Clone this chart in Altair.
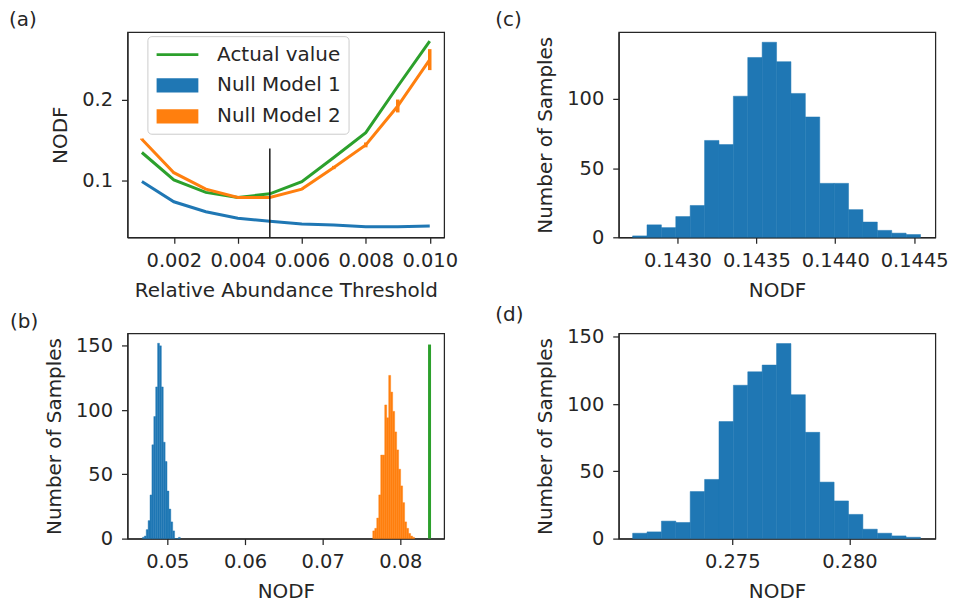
import altair as alt
import pandas as pd
import numpy as np

FONT = "DejaVu Sans"
TXT = "#262626"
BLUE = "#1f77b4"
ORANGE = "#ff7f0e"
GREEN = "#2ca02c"

# ---------------- panel (a) data ----------------
thresholds = [0.001, 0.002, 0.003, 0.004, 0.005, 0.006, 0.007, 0.008, 0.009, 0.010]
actual = [0.135, 0.101, 0.0856, 0.0794, 0.0838, 0.0988, 0.1288, 0.1596, 0.217, 0.273]
null1 = [0.099, 0.074, 0.0617, 0.0535, 0.0498, 0.0465, 0.0453, 0.0432, 0.0432, 0.044]
null1_std = [0.0004, 0.0004, 0.0004, 0.0004, 0.0004, 0.0004, 0.0004, 0.0004, 0.0004, 0.0004]
null2 = [0.1514, 0.110, 0.0897, 0.0794, 0.0794, 0.0897, 0.1164, 0.1444, 0.1926, 0.250]
null2_std = [0.0008, 0.0008, 0.0008, 0.0008, 0.0008, 0.001, 0.002, 0.003, 0.008, 0.013]
cut_threshold = [0.005]
cut_top = [0.14]
cut_bottom = [0.0]
legend_labels = ["Actual value", "Null Model 1", "Null Model 2"]
a_xticks = [0.002, 0.004, 0.006, 0.008, 0.010]
a_yticks = [0.1, 0.2]

# ---------------- panel (b) data ----------------
b_null1_start = 0.046795
b_null1_width = 0.0002436
b_null1_counts = [1, 2, 7, 14, 34, 73, 95, 118, 152, 150, 118, 75, 60, 37, 23, 13, 6, 0, 0, 1]
b_null2_start = 0.076449
b_null2_width = 0.0002564
b_null2_counts = [6, 8, 16, 34, 65, 65, 104, 94, 127, 114, 99, 83, 69, 54, 41, 28, 13, 8, 4, 2, 1]
b_actual = [0.08376]
b_actual_count = [151]
b_xticks = [0.05, 0.06, 0.07, 0.08]
b_yticks = [0, 50, 100, 150]

# ---------------- panel (c) data ----------------
c_start = 0.142716
c_width = 0.0000912
c_counts = [1, 9, 7, 15, 23, 70, 67, 102, 130, 141, 127, 104, 87, 39, 39, 20, 11, 5, 3, 2]
c_xticks = [0.1430, 0.1435, 0.1440, 0.1445]
c_yticks = [0, 50, 100]

# ---------------- panel (d) data ----------------
d_start = 0.270752
d_width = 0.0006139
d_counts = [4, 5, 13, 12, 35, 44, 87, 114, 124, 129, 145, 107, 79, 42, 28, 18, 7, 4, 2, 1]
d_xticks = [0.275, 0.280]
d_yticks = [0, 50, 100, 150]

W = 318
H = 206


def hist_df(start, width, counts):
    n = len(counts)
    edges = start + width * np.arange(n + 1)
    return pd.DataFrame({"lo": edges[:-1], "hi": edges[1:], "count": counts})


def title(txt, dx):
    return alt.TitleParams(txt, anchor="start", frame="group", dx=dx, offset=2,
                           fontSize=20, font=FONT, color=TXT, fontWeight="normal")


# ---------------- panel (a) ----------------
df_a = pd.DataFrame({"t": thresholds, "actual": actual, "n1": null1, "n1s": null1_std,
                     "n2": null2, "n2s": null2_std})
xa = alt.X("t:Q", scale=alt.Scale(domain=[0.00055, 0.01045], nice=False, zero=False),
           axis=alt.Axis(values=a_xticks, format=".3f", title="Relative Abundance Threshold"))
ysc = alt.Scale(domain=[0.030, 0.284], nice=False, zero=False)
yax = alt.Axis(values=a_yticks, format=".1f", title="NODF")

base_a = alt.Chart(df_a)
l_act = base_a.mark_line(color=GREEN, strokeWidth=3).encode(x=xa, y=alt.Y("actual:Q", scale=ysc, axis=yax))
l_n1 = base_a.mark_line(color=BLUE, strokeWidth=3).encode(x=xa, y=alt.Y("n1:Q", scale=ysc, axis=yax))
l_n2 = base_a.mark_line(color=ORANGE, strokeWidth=3).encode(x=xa, y=alt.Y("n2:Q", scale=ysc, axis=yax))
e_n2 = base_a.transform_calculate(lo="datum.n2 - datum.n2s", hi="datum.n2 + datum.n2s").mark_rule(
    color=ORANGE, strokeWidth=3.5).encode(x=xa, y=alt.Y("lo:Q", scale=ysc, axis=yax), y2="hi:Q")
vline = alt.Chart(pd.DataFrame({"t": cut_threshold, "top": cut_top, "bot": cut_bottom})).mark_rule(
    color="#1a1a1a", strokeWidth=1.5, clip=True).encode(x=xa, y=alt.Y("top:Q", scale=ysc, axis=yax), y2="bot:Q")

sym_paths = ["M-0.82,-0.12H2.89V0.12H-0.82Z",
             "M-0.82,-0.63H2.89V0.63H-0.82Z",
             "M-0.82,-0.63H2.89V0.63H-0.82Z"]
leg = alt.Legend(title=None, orient="none", legendX=20, legendY=4, padding=7, rowPadding=9,
                 symbolSize=511, labelOffset=40, labelFontSize=20, labelFont=FONT, labelColor=TXT,
                 fillColor="rgba(255,255,255,0.8)", strokeColor="#cccccc", cornerRadius=4,
                 symbolStrokeWidth=0, symbolOpacity=1)
legend_layer = alt.Chart(pd.DataFrame({"series": legend_labels})).transform_filter("false").mark_point(
    filled=True).encode(
    color=alt.Color("series:N", scale=alt.Scale(domain=legend_labels, range=[GREEN, BLUE, ORANGE]), legend=leg),
    shape=alt.Shape("series:N", scale=alt.Scale(domain=legend_labels, range=sym_paths), legend=leg),
)

panel_a = alt.layer(l_act, l_n1, l_n2, e_n2, vline, legend_layer).properties(
    width=W, height=H, title=title("(a)", -119))

# ---------------- panel (b) ----------------
xb = alt.X("lo:Q", scale=alt.Scale(domain=[0.04487, 0.08564], nice=False, zero=False),
           axis=alt.Axis(values=b_xticks, format=".2f", title="NODF"))
ybs = alt.Scale(domain=[0, 159.6], nice=False)
ybax = alt.Axis(values=b_yticks, format="d", title="Number of Samples")
h1 = alt.Chart(hist_df(b_null1_start, b_null1_width, b_null1_counts)).mark_bar(
    color=BLUE, stroke=BLUE, strokeWidth=0.4).encode(
    x=xb, x2="hi:Q", y=alt.Y("count:Q", scale=ybs, axis=ybax), y2=alt.datum(0))
h2 = alt.Chart(hist_df(b_null2_start, b_null2_width, b_null2_counts)).mark_bar(
    color=ORANGE, stroke=ORANGE, strokeWidth=0.4).encode(
    x=xb, x2="hi:Q", y=alt.Y("count:Q", scale=ybs, axis=ybax), y2=alt.datum(0))
g = alt.Chart(pd.DataFrame({"lo": b_actual, "count": b_actual_count})).mark_rule(
    color=GREEN, strokeWidth=3).encode(x=xb, y=alt.Y("count:Q", scale=ybs, axis=ybax), y2=alt.datum(0))
panel_b = alt.layer(h1, h2, g).properties(width=W, height=H, title=title("(b)", -118))


def hist_panel(df, xdom, xticks, xfmt, ymax, yticks, lab):
    return alt.Chart(df).mark_bar(color=BLUE, stroke=BLUE, strokeWidth=0.5).encode(
        x=alt.X("lo:Q", scale=alt.Scale(domain=xdom, nice=False, zero=False),
                axis=alt.Axis(values=xticks, format=xfmt, title="NODF")),
        x2="hi:Q",
        y=alt.Y("count:Q", scale=alt.Scale(domain=[0, ymax], nice=False),
                axis=alt.Axis(values=yticks, format="d", title="Number of Samples")),
        y2=alt.datum(0),
    ).properties(width=W, height=H, title=title(lab, -124))


panel_c = hist_panel(hist_df(c_start, c_width, c_counts), [0.142628, 0.144634], c_xticks, ".4f", 148.3, c_yticks, "(c)")
panel_d = hist_panel(hist_df(d_start, d_width, d_counts), [0.270157, 0.283666], d_xticks, ".3f", 152.5, d_yticks, "(d)")

chart = alt.concat(
    panel_a, panel_c, panel_b, panel_d,
    columns=2, bounds="flush", spacing={"row": 96.6, "column": 175.3},
).properties(padding=0).configure_view(stroke=TXT, strokeWidth=1.25).configure_axis(
    labelFont=FONT, labelFontSize=19.5, labelColor=TXT, titleFont=FONT, titleFontSize=20,
    titleFontWeight="normal", titleColor=TXT, domainColor=TXT, domainWidth=1.25, tickColor=TXT,
    tickWidth=1.25, tickSize=6, grid=False, labelFlush=False,
).configure_axisX(labelPadding=8.5, titlePadding=10.5).configure_axisY(labelPadding=9, titlePadding=11)

chart.save("out.html", embed_options={"renderer": "svg", "actions": False})
